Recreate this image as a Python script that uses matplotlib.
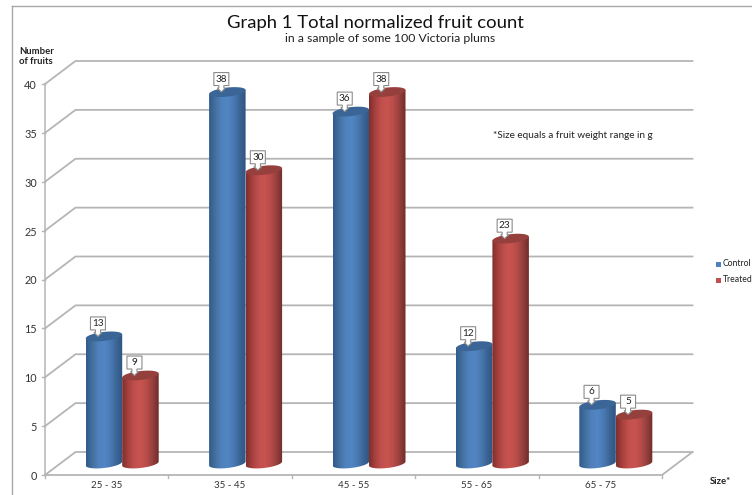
import numpy as np
import matplotlib
matplotlib.use("Agg")
import matplotlib.pyplot as plt
from matplotlib.colors import LinearSegmentedColormap
from matplotlib.patches import Polygon, PathPatch
from matplotlib.path import Path

categories = ["25 - 35", "35 - 45", "45 - 55", "55 - 65", "65 - 75"]
control = [13, 38, 36, 12, 6]
treated = [9, 30, 38, 23, 5]
series_names = ["Control", "Treated"]
y_ticks = [0, 5, 10, 15, 20, 25, 30, 35, 40]

W, H = 752, 495
plt.rcParams["font.family"] = ["Lato", "DejaVu Sans"]
fig = plt.figure(figsize=(W / 100, H / 100), dpi=100)
L, R, B0, T0 = 45, 662, 475, 84
ax = fig.add_axes([L / W, 1 - B0 / H, (R - L) / W, (B0 - T0) / H])
ax.set_xlim(0, 5)
ax.set_ylim(0, 40)
ax.axis("off")

px = 5 / (R - L)
py = 40 / (B0 - T0)
DX, DY = 30.5 * px, 23 * py
GRID = "#b5b5b5"
for v in y_ticks:
    ax.plot([0, DX, 5 + DX], [v, v + DY, v + DY], color=GRID, lw=1.3, clip_on=False, zorder=1)
ax.plot([0, 5, 5 + DX], [0, 0, DY], color=GRID, lw=1.3, clip_on=False, zorder=1)
ax.plot([0, 0], [0, 40], color=GRID, lw=1.1, clip_on=False, zorder=1)
for i in range(6):
    ax.plot([i, i], [0, -3 * py], color=GRID, lw=1, clip_on=False, zorder=1)
for v in y_ticks:
    ax.plot([0, -3 * px], [v, v], color=GRID, lw=1, clip_on=False, zorder=1)
    ax.text(-8 * px, v - 1.5 * py, str(v), ha="right", va="center", fontsize=7.8, color="#333333")
for i, c in enumerate(categories):
    ax.text(i + 0.5, -10 * py, c, ha="center", va="center", fontsize=7, color="#333333")

blue = LinearSegmentedColormap.from_list("b", ["#2f5a8c", "#44709f", "#4f81bd", "#5286c4", "#4a7ab4", "#3b6596", "#2f5480"])
red = LinearSegmentedColormap.from_list("r", ["#7e2f2d", "#a8413e", "#c0504d", "#c9544f", "#b94c49", "#96403d", "#6f2c2a"])
top_blue, top_red = "#3a6596", "#96403d"
grad = np.linspace(0, 1, 128).reshape(1, -1)
BW = 36.5 * px
EH = 4.5 * py
TILT = 2 * py


def callout(xc, top, v, z):
    cx = xc - 6 * px
    hw, hh = 7.5 * px, 6.5 * py
    yc = top + 13 * py
    pts = [(cx - hw, yc - hh), (cx - hw, yc + hh), (cx + hw, yc + hh), (cx + hw, yc - hh),
           (cx + 2.5 * px, yc - hh), (cx + 2.5 * px, yc - hh - 2.5 * py), (cx + 4 * px, yc - hh - 2.5 * py),
           (cx, top), (cx - 4 * px, yc - hh - 2.5 * py), (cx - 2.5 * px, yc - hh - 2.5 * py), (cx - 2.5 * px, yc - hh)]
    ax.add_patch(Polygon(pts, closed=True, fc="white", ec="#8c8c8c", lw=0.8, zorder=z, clip_on=False))
    ax.text(cx, yc, str(v), ha="center", va="center", fontsize=7.2, color="#222222", zorder=z + 0.01)


def cylinder(x0, v, cmap, topc, z):
    xc = x0 + BW / 2
    ybase = DY / 2
    top = ybase + v
    ty = np.linspace(0, np.pi, 40)
    cs, sn = np.cos(ty), np.sin(ty)
    xs = xc + BW / 2 * cs
    outline = np.concatenate([
        np.c_[xs[::-1], ybase - EH * sn[::-1] + TILT * cs[::-1]],
        np.c_[xs, top + TILT * cs],
    ])
    im = ax.imshow(grad, cmap=cmap, extent=[x0, x0 + BW, ybase - 2 * EH, top + 2 * EH],
                   aspect="auto", zorder=z)
    patch = PathPatch(Path(np.r_[outline, outline[:1]]), transform=ax.transData, fc="none", ec="none")
    ax.add_patch(patch)
    im.set_clip_path(patch)
    th = np.linspace(0, 2 * np.pi, 60)
    ax.add_patch(Polygon(np.c_[xc + BW / 2 * np.cos(th), top + EH * np.sin(th) + TILT * np.cos(th)],
                         closed=True, fc=topc, ec="none", zorder=z + 0.1, clip_on=False))
    callout(xc, top, v, z + 0.3)


for i, (a, b) in enumerate(zip(control, treated)):
    junction = i + 0.5 + 15.5 * px
    cylinder(junction - BW, a, blue, top_blue, 3 + i)
    cylinder(junction, b, red, top_red, 3.5 + i)
ax.set_xlim(0, 5)
ax.set_ylim(0, 40)

ft = fig.transFigure


def T(x, y, s, **k):
    fig.text(x / W, 1 - y / H, s, **k)


T(375, 23, "Graph 1 Total normalized fruit count", ha="center", va="center", fontsize=13.3, color="#111111")
T(390, 39, "in a sample of some 100 Victoria plums", ha="center", va="center", fontsize=8.8, color="#222222")
T(19, 52, "Number", ha="left", va="center", fontsize=6.8, fontweight="bold", color="#222222")
T(19, 61, "of fruits", ha="left", va="center", fontsize=6.8, fontweight="bold", color="#222222")
T(493, 135, "*Size equals a fruit weight range in g", ha="left", va="center", fontsize=7.2, color="#222222")
T(710, 482, "Size*", ha="left", va="center", fontsize=6.8, fontweight="bold", color="#222222")
fig.add_artist(plt.Line2D([12 / W, 12 / W], [0, 1 - 6 / H], color="#a8a8a8", lw=1, transform=ft))
fig.add_artist(plt.Line2D([12 / W, 1], [1 - 6 / H, 1 - 6 / H], color="#a8a8a8", lw=1, transform=ft))
for name, col, y in zip(series_names, ["#4f81bd", "#c0504d"], [264, 280]):
    fig.patches.append(plt.Rectangle((716 / W, 1 - (y + 2.5) / H), 5 / W, 5 / H, fc=col, ec="none", transform=ft))
    T(723, y, name, ha="left", va="center", fontsize=6.2, color="#222222")

fig.savefig("out.png", dpi=100)
